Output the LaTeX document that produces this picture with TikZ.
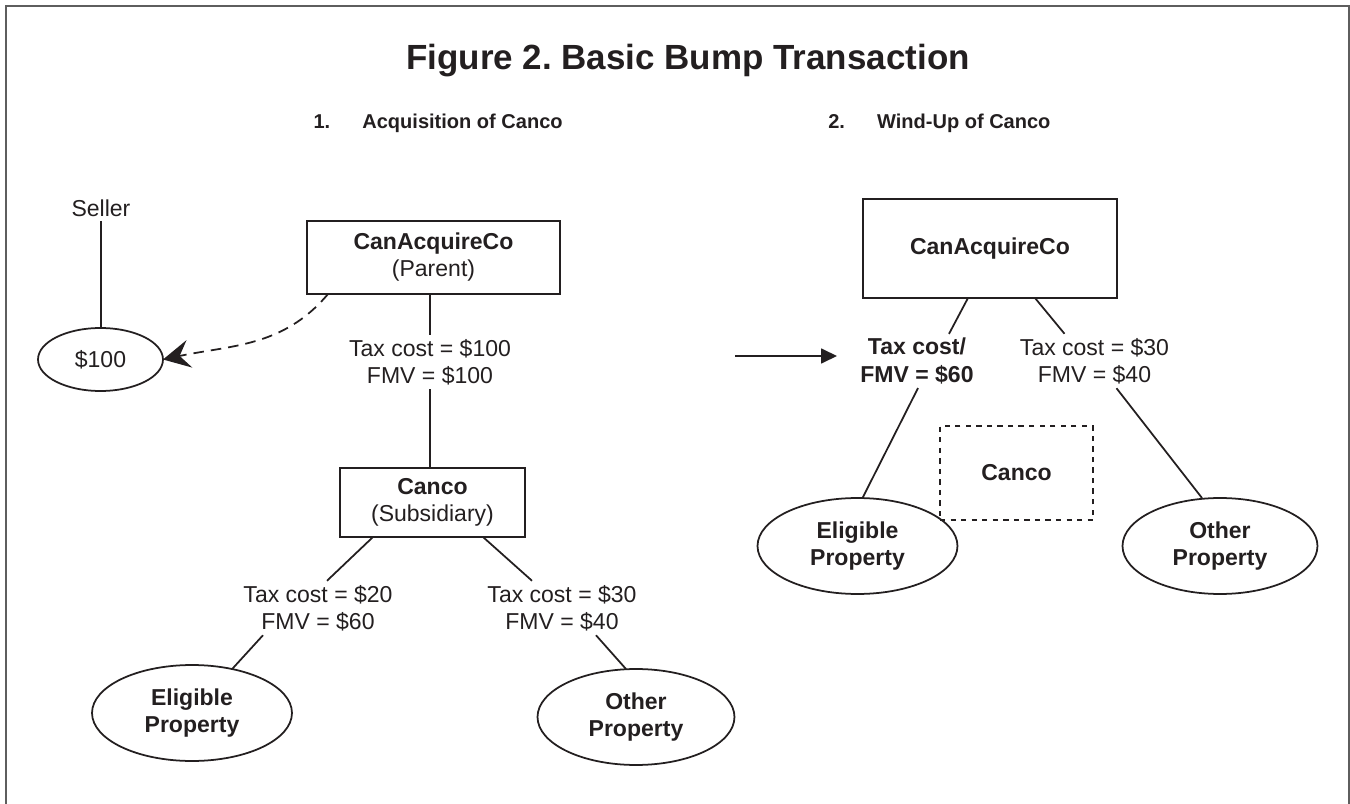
\documentclass[tikz,border=0pt]{standalone}
\usepackage{fontspec}
\setmainfont{Liberation Sans}
\usetikzlibrary{shapes.geometric,arrows.meta}
\definecolor{ink}{HTML}{231F20}
\definecolor{framegray}{HTML}{5E5E5E}
\frenchspacing

\begin{document}
\begin{tikzpicture}[
            x=0.02cm, y=-0.02cm,
            every node/.style={text=ink, inner sep=0pt},
            lbl/.style={align=center, outer sep=2.5pt, font=\fontsize{13.1}{15.4}\selectfont},
            box/.style={lbl, draw=ink, line width=1pt, outer sep=0pt},
            prop/.style={box, ellipse, minimum width=4cm, minimum height=1.92cm,
                    font=\fontsize{13.1}{15.4}\selectfont\bfseries},
            head/.style={font=\fontsize{11.4}{14}\selectfont\bfseries},
            link/.style={draw=ink, line width=1pt}
        ]
        \useasboundingbox (0,0) rectangle (1350,804);
        \draw[framegray, line width=1pt] (6,820) -- (6,6) -- (1349,6) -- (1349,820);

        \node[anchor=base, font=\fontsize{19.9}{24}\selectfont\bfseries] (title) at (688,70)
            {Figure 2. Basic Bump Transaction};
        \node[head, anchor=base east] (step1) at (563,129) {1.\hspace{1.6em}Acquisition of Canco};
        \node[head, anchor=base west] (step2) at (828,129) {2.\hspace{1.6em}Wind-Up of Canco};

        % acquisition
        \node[lbl] (seller) at (101,208) {Seller};
        \node[box, ellipse, minimum width=2.5cm, minimum height=1.26cm] (cash) at (100.5,359.5) {\$100};
        \node[box, minimum width=5.06cm, minimum height=1.46cm] (parent) at (433.5,257.5)
            {\textbf{CanAcquireCo}\\(Parent)};
        \node[lbl] (cost1) at (430,362) {Tax cost = \$100\\FMV = \$100};
        \node[box, minimum width=3.7cm, minimum height=1.38cm] (canco) at (432.5,502.5)
            {\textbf{Canco}\\(Subsidiary)};
        \node[lbl] (cost2) at (318,608) {Tax cost = \$20\\FMV = \$60};
        \node[lbl] (cost3) at (562,608) {Tax cost = \$30\\FMV = \$40};
        \node[prop] (elig1) at (192,713) {Eligible\\Property};
        \node[prop, minimum width=3.94cm] (other1) at (636,717) {Other\\Property};

        \draw[link] (seller.south) -- (seller.south |- cash.north);
        \draw[link] (cost1.north |- parent.south) -- (cost1.north);
        \draw[link] (cost1.south) -- (cost1.south |- canco.north);
        \draw[link] ([shift={(33,0)}]canco.south west) -- ([shift={(9,0)}]cost2.north);
        \draw[link] ([shift={(-55,0)}]cost2.south) -- (elig1);
        \draw[link] ([shift={(-42,0)}]canco.south east) -- ([shift={(-30,0)}]cost3.north);
        \draw[link] ([shift={(34,0)}]cost3.south) -- ([shift={(-10,0)}]other1.north);
        \draw[link, dashed, dash pattern=on 6pt off 4pt,
            -{Stealth[length=0.54cm, width=0.56cm, inset=0.2cm]}]
            ([shift={(21,0)}]parent.south west) to[out=-130, in=12] (cash.east);

        % wind-up
        \coordinate (go) at (735,356);
        \coordinate (arrive) at (837,356);
        \draw[link, -{Triangle[length=0.32cm, width=0.3cm]}] (go) -- (arrive);

        \node[box, minimum width=5.08cm, minimum height=1.98cm] (parent2) at (990,248.5)
            {\textbf{CanAcquireCo}};
        \node[lbl, font=\fontsize{13.1}{15.4}\selectfont\bfseries] (cost4) at (917,361)
            {Tax cost/\\FMV = \$60};
        \node[lbl] (cost5) at (1094.5,361) {Tax cost = \$30\\FMV = \$40};
        \node[box, dashed, minimum width=3.06cm, minimum height=1.88cm] (canco2) at (1016.5,473)
            {\textbf{Canco}};
        \node[prop] (elig2) at (857.5,546) {Eligible\\Property};
        \node[prop, minimum width=3.9cm] (other2) at (1220,546) {Other\\Property};

        \draw[link] ([shift={(-22,0)}]parent2.south) -- ([shift={(32,0)}]cost4.north);
        \draw[link] ([shift={(1,0)}]cost4.south) -- ([shift={(5,0)}]elig2.north);
        \draw[link] ([shift={(45,0)}]parent2.south) -- ([shift={(-30,0)}]cost5.north);
        \draw[link] ([shift={(22,0)}]cost5.south) -- ([shift={(-18,0)}]other2.north);
    \end{tikzpicture}
\end{document}
